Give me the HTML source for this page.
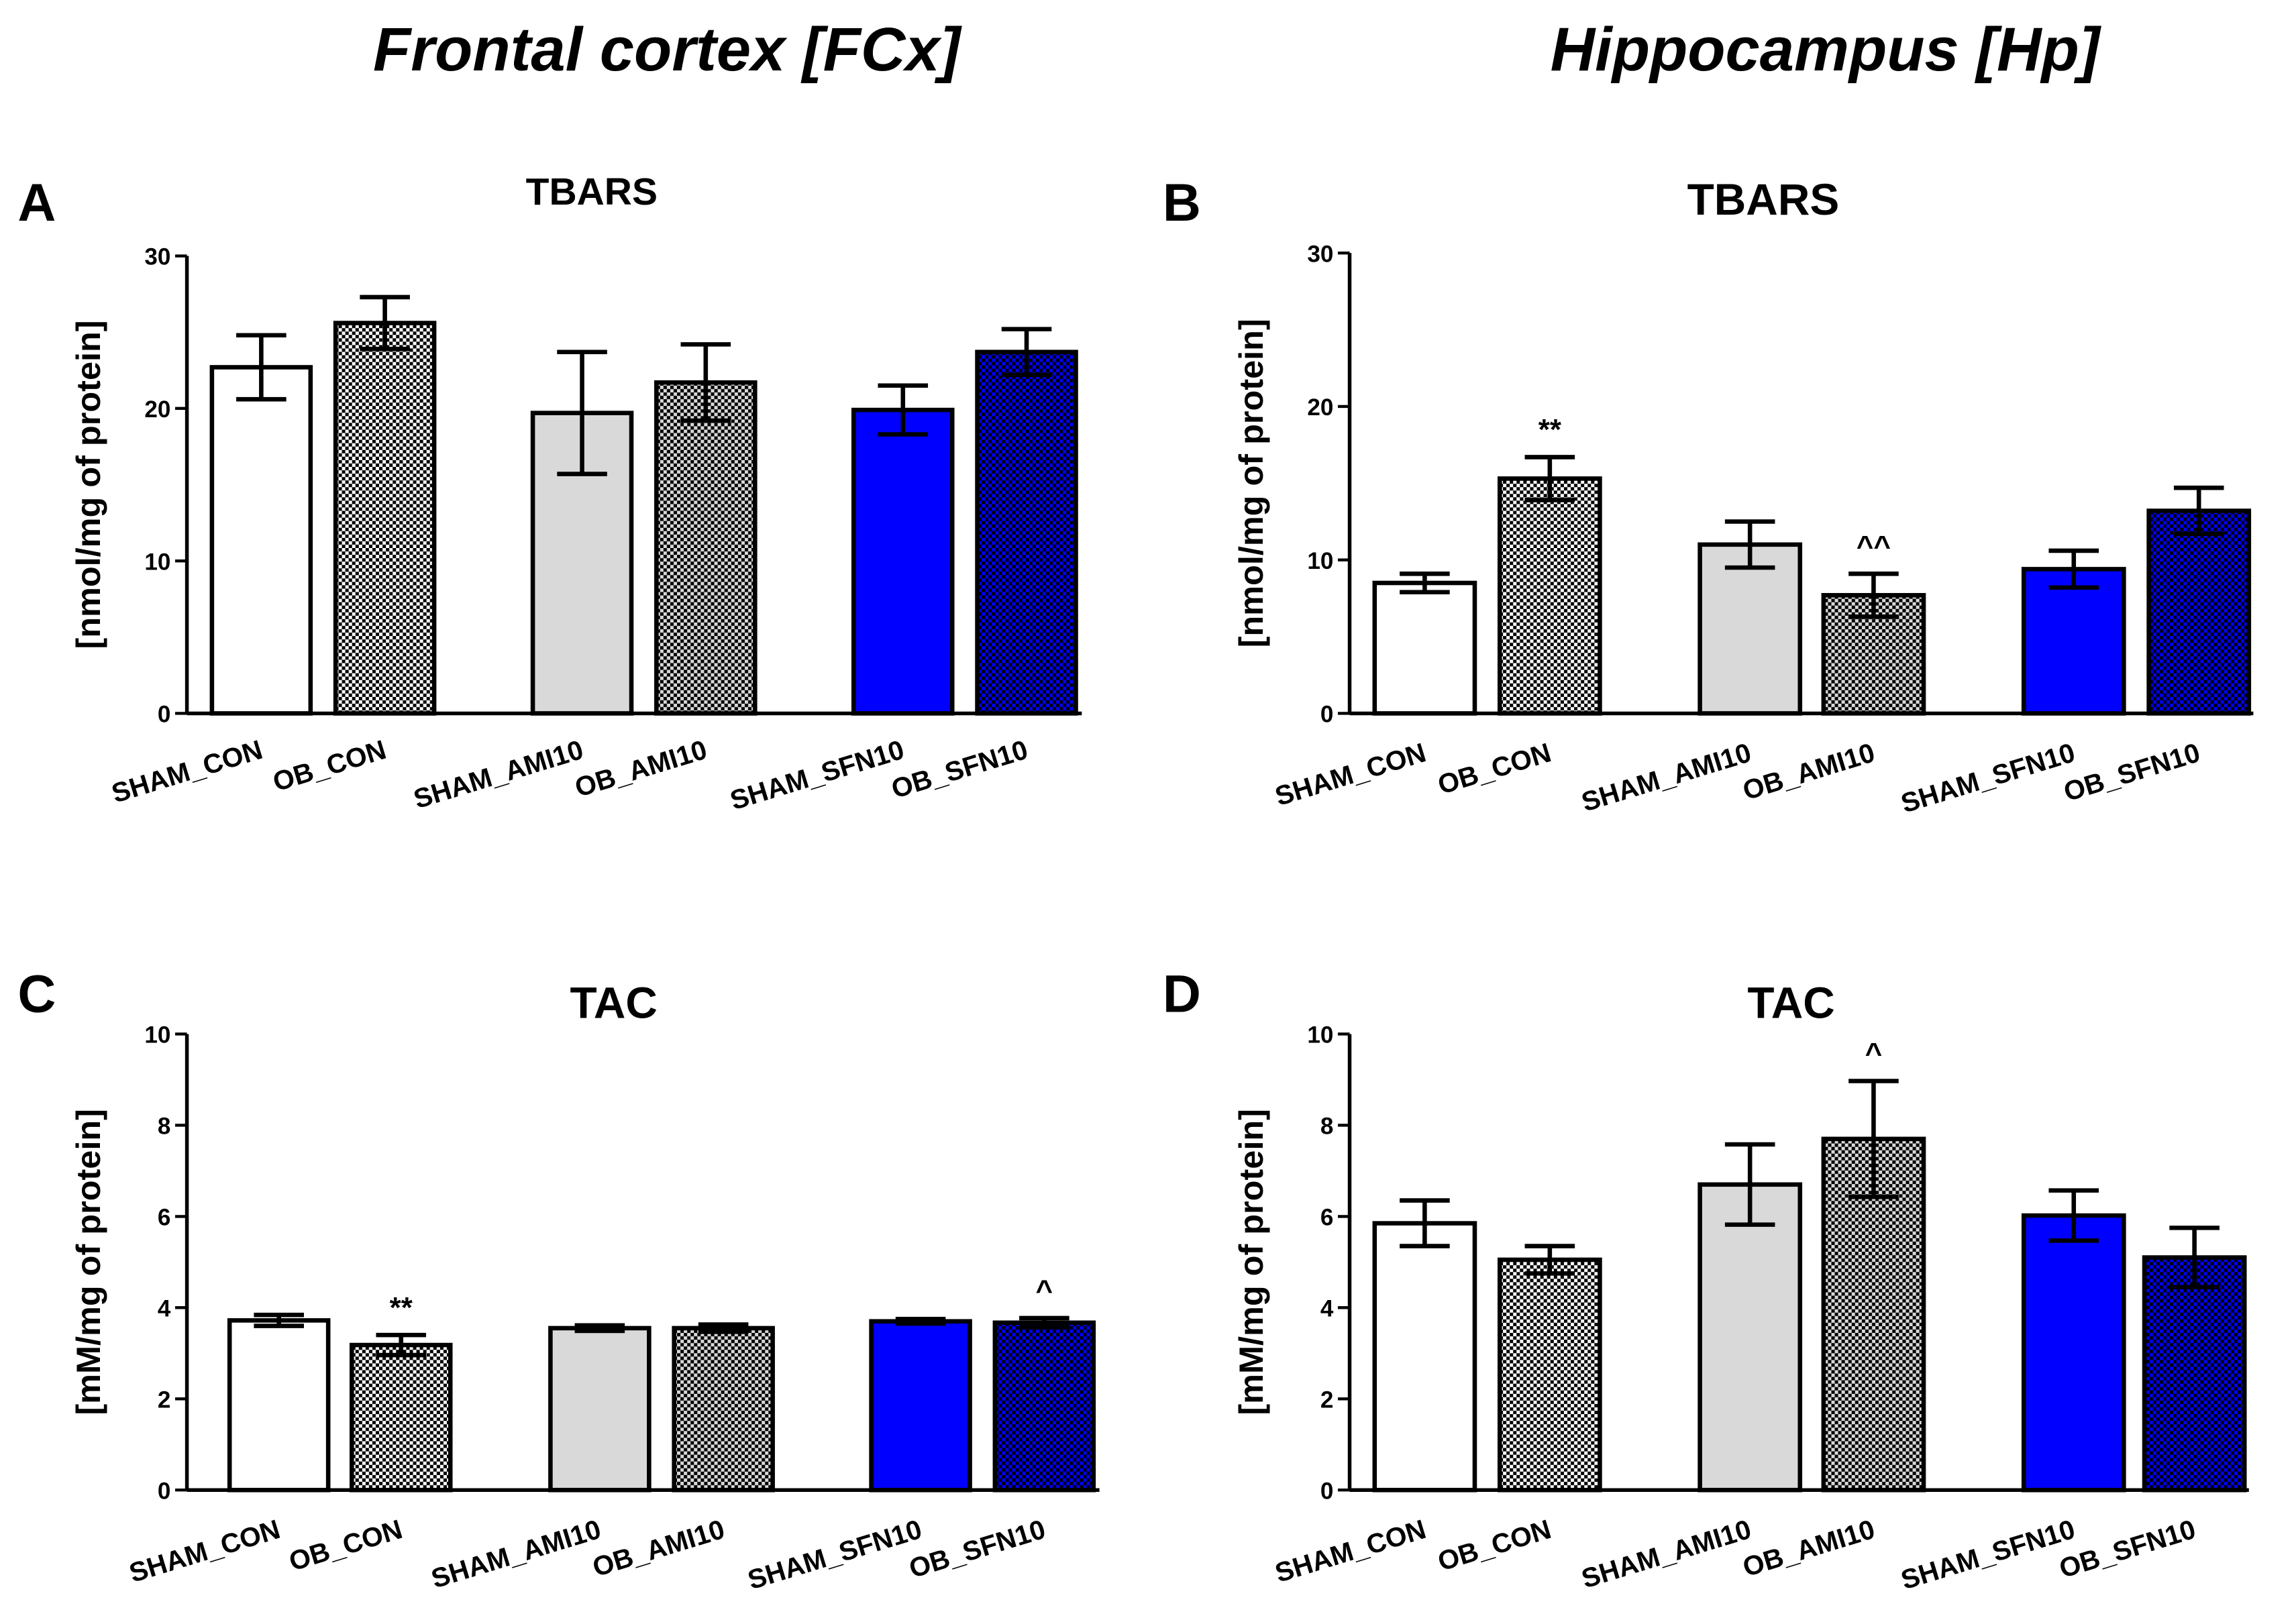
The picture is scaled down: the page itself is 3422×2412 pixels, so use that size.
<!DOCTYPE html>
<html><head><meta charset="utf-8"><style>
html,body{margin:0;padding:0;background:#fff}
svg{display:block}
text{font-family:"Liberation Sans",Arial,sans-serif;font-weight:bold;fill:#000}
</style></head><body>
<svg id="fig" width="3422" height="2412" viewBox="0 0 1560 1100" preserveAspectRatio="none" xmlns="http://www.w3.org/2000/svg">
<defs>
<pattern id="pk" width="4.6" height="4.6" patternUnits="userSpaceOnUse"><rect width="4.6" height="4.6" fill="#fff"/><rect width="2.3" height="2.3" fill="#000"/><rect x="2.3" y="2.3" width="2.3" height="2.3" fill="#000"/></pattern>
<pattern id="pg" width="4.6" height="4.6" patternUnits="userSpaceOnUse"><rect width="4.6" height="4.6" fill="#d9d9d9"/><rect width="2.3" height="2.3" fill="#000"/><rect x="2.3" y="2.3" width="2.3" height="2.3" fill="#000"/></pattern>
<pattern id="pb" width="4.6" height="4.6" patternUnits="userSpaceOnUse"><rect width="4.6" height="4.6" fill="#0000ff"/><rect width="2.3" height="2.3" fill="#000"/><rect x="2.3" y="2.3" width="2.3" height="2.3" fill="#000"/></pattern>
</defs>
<text x="453" y="48" font-size="42" font-style="italic" text-anchor="middle">Frontal cortex [FCx]</text>
<text x="1240" y="48" font-size="42" font-style="italic" text-anchor="middle">Hippocampus [Hp]</text>
<g id="charts"></g>
</svg>
<script>
const categories = ["SHAM_CON","OB_CON","SHAM_AMI10","OB_AMI10","SHAM_SFN10","OB_SFN10"];
const fills = ["#fff","url(#pk)","#d9d9d9","url(#pg)","#0000ff","url(#pb)"];
const valuesA = [22.7,25.6,19.7,21.7,19.9,23.7];
const errorsA = [2.1,1.7,4.0,2.5,1.6,1.5];
const valuesB = [8.5,15.3,11.0,7.7,9.4,13.2];
const errorsB = [0.6,1.4,1.5,1.4,1.2,1.5];
const valuesC = [3.72,3.18,3.55,3.55,3.7,3.67];
const errorsC = [0.12,0.22,0.06,0.08,0.05,0.1];
const valuesD = [5.85,5.05,6.7,7.7,6.02,5.1];
const errorsD = [0.5,0.3,0.88,1.27,0.55,0.65];
const ticksTBARS = [0,10,20,30];
const ticksTAC = [0,2,4,6,8,10];
const annotB = ["","**","","^^","",""];
const annotC = ["","**","","","","^"];
const annotD = ["","","","^","",""];
const annotA = ["","","","","",""];

const NS="http://www.w3.org/2000/svg";
const root=document.getElementById('charts');
function mk(tag,attrs,parent){const e=document.createElementNS(NS,tag);for(const k in attrs)e.setAttribute(k,attrs[k]);(parent||root).appendChild(e);return e;}

const panels=[
 {id:"a",letter:"A",lx:12,ly:150,title:"TBARS",tx:402,ty:139,ts:26,ax:127,y0:485,y1:174,max:30,ticks:ticksTBARS,vals:valuesA,errs:errorsA,ann:annotA,bx:[144,228,362,446,580,664],bw:67,xend:735,ylab:"[nmol/mg of protein]",ylx:68,lbly:515},
 {id:"b",letter:"B",lx:790,ly:150,title:"TBARS",tx:1198,ty:146,ts:30,ax:917,y0:485,y1:172,max:30,ticks:ticksTBARS,vals:valuesB,errs:errorsB,ann:annotB,bx:[934,1019,1155,1239,1375,1460],bw:68,xend:1531,ylab:"[nmol/mg of protein]",ylx:858,lbly:517},
 {id:"c",letter:"C",lx:12,ly:688,title:"TAC",tx:417,ty:692,ts:30,ax:127,y0:1013,y1:703,max:10,ticks:ticksTAC,vals:valuesC,errs:errorsC,ann:annotC,bx:[156,239,374,458,592,676],bw:67,xend:747,ylab:"[mM/mg of protein]",ylx:68,lbly:1045},
 {id:"d",letter:"D",lx:790,ly:688,title:"TAC",tx:1217,ty:692,ts:30,ax:917,y0:1013,y1:703,max:10,ticks:ticksTAC,vals:valuesD,errs:errorsD,ann:annotD,bx:[934,1019,1155,1239,1375,1457],bw:68,xend:1528,ylab:"[mM/mg of protein]",ylx:858,lbly:1045}
];

panels.forEach(p=>{
 const g=mk('g',{});
 
 
 const y=v=>p.y0-(v/p.max)*(p.y0-p.y1);
 const L=mk('text',{x:p.lx,y:p.ly,'font-size':36},g);L.textContent=p.letter;
 
 
 const T=mk('text',{x:p.tx,y:p.ty,'font-size':p.ts,'text-anchor':'middle'},g);T.textContent=p.title;
 
 
 const yc=(p.y0+p.y1)/2;
 const YL=mk('text',{x:p.ylx,y:yc,'font-size':23,'text-anchor':'middle',transform:`rotate(-90 ${p.ylx} ${yc})`},g);YL.textContent=p.ylab;
 
 
 p.vals.forEach((v,i)=>{
  const x=p.bx[i],cx=x+p.bw/2;
  const r=mk('rect',{x:x,y:y(v),width:p.bw,height:p.y0-y(v),fill:fills[i],stroke:'#000','stroke-width':3},g);
  
  
  const e=p.errs[i];
  const eg=mk('g',{stroke:'#000','stroke-width':3,fill:'none'},g);
  
  
  mk('line',{x1:cx,x2:cx,y1:y(v-e),y2:y(v+e)},eg);
  mk('line',{x1:cx-17,x2:cx+17,y1:y(v+e),y2:y(v+e)},eg);
  mk('line',{x1:cx-17,x2:cx+17,y1:y(v-e),y2:y(v-e)},eg);
  mk('line',{x1:cx,x2:cx,y1:p.y0,y2:p.y0+10,'stroke-width':2},g);
  const lb=mk('text',{x:cx+2,y:p.lbly,'font-size':18.5,'text-anchor':'end',transform:`rotate(-17 ${cx+2} ${p.lbly})`},g);
  lb.textContent=categories[i];
  
  
  if(p.ann[i]){
   const a=mk('text',{x:cx,y:y(v+e)-12,'font-size':20,'text-anchor':'middle'},g);a.textContent=p.ann[i];
   
   
  }
 });
 const ax=mk('g',{stroke:'#000','stroke-width':2.5},g);
 
 
 mk('line',{x1:p.ax,x2:p.ax,y1:p.y1,y2:p.y0},ax);
 mk('line',{x1:p.ax,x2:p.xend,y1:p.y0,y2:p.y0},ax);
 p.ticks.forEach(t=>{
  mk('line',{x1:p.ax-8,x2:p.ax,y1:y(t),y2:y(t),'stroke-width':2},ax);
  const tl=mk('text',{x:p.ax-11,y:y(t)+6,'font-size':16,'text-anchor':'end'},g);tl.textContent=t;
  
  
 });
});
</script>
</body></html>
